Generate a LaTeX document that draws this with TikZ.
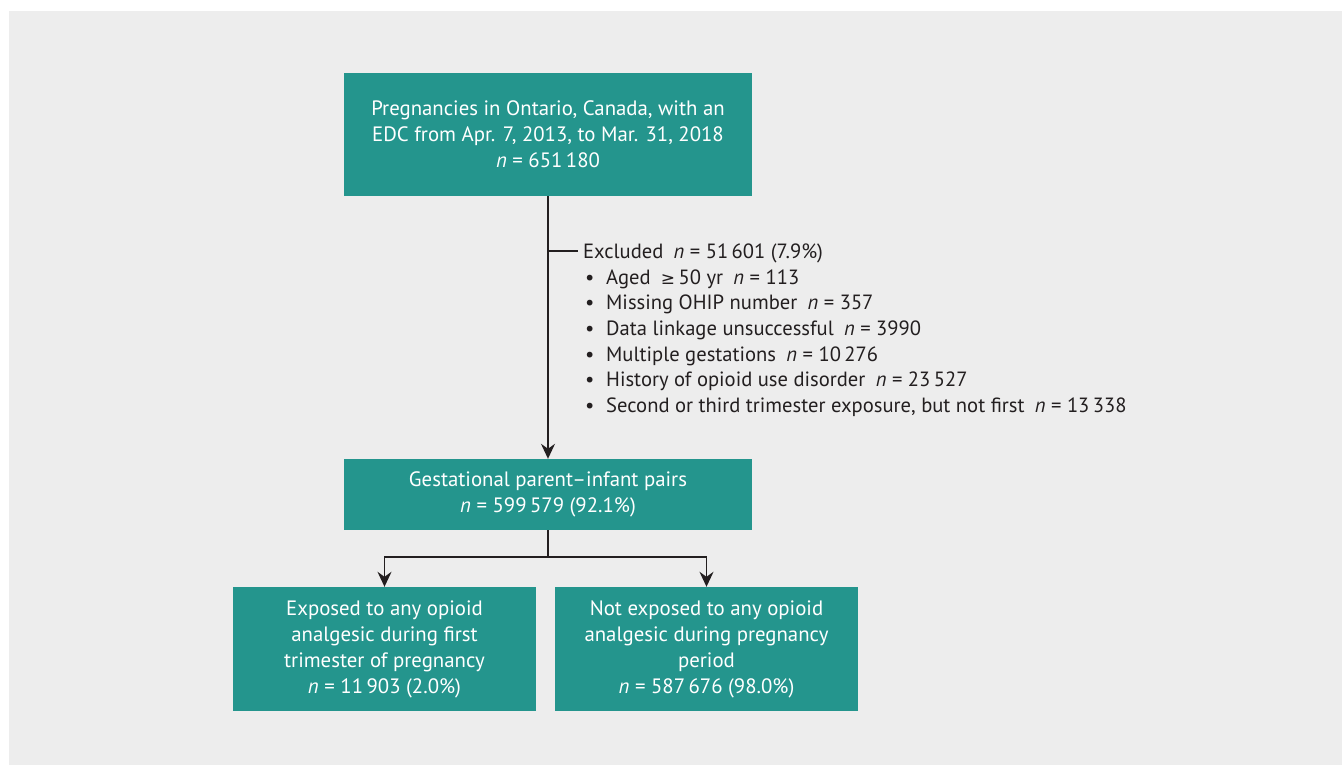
\documentclass[tikz,border=0pt]{standalone}
\usepackage{fontspec}
\setmainfont{PT Sans}
\newfontfamily\symbolfont{DejaVu Sans}
\usetikzlibrary{arrows.meta}
\definecolor{teal}{HTML}{24958D}
\definecolor{panel}{HTML}{EDEDED}
\definecolor{ink}{HTML}{231F20}
\begin{document}
\begin{tikzpicture}[x=1pt,y=-1pt,
    box/.style={fill=teal,text=white,align=center,inner sep=0pt,
      font=\fontsize{20.8}{26}\selectfont},
    note/.style={text=ink,align=left,inner sep=0pt,anchor=north west,
      font=\fontsize{20.6}{25.7}\selectfont},
    link/.style={draw=ink,line width=1.5pt},
    arrow/.style={link,-{Stealth[length=15pt,width=14pt,inset=5pt]}}]
  \useasboundingbox (0,0) rectangle (1342,765);
  \fill[panel] (9,11) rectangle (1342,765);
  \draw
    (548,134.5) node[box,minimum width=408pt,minimum height=123pt] (pregnancies)
      {Pregnancies in Ontario, Canada, with an\\
       EDC from Apr. 7, 2013, to Mar. 31, 2018\\
       \textit{n} = 651\,180}
    (548,494.5) node[box,minimum width=408pt,minimum height=71pt] (pairs)
      {Gestational parent–infant pairs\\
       \textit{n} = 599\,579 (92.1\%)}
    (384.5,649) node[box,minimum width=303pt,minimum height=124pt] (exposed)
      {Exposed to any opioid\\
       analgesic during first\\
       trimester of pregnancy\\
       \textit{n} = 11\,903 (2.0\%)}
    (706.5,649) node[box,minimum width=303pt,minimum height=124pt] (unexposed)
      {Not exposed to any opioid\\
       analgesic during pregnancy\\
       period\\
       \textit{n} = 587\,676 (98.0\%)}
    (583,243.5) node[note] (excluded)
      {Excluded\enspace\textit{n} = 51\,601 (7.9\%)\\
       \makebox[23pt][l]{\hspace{2pt}\textbullet}Aged\enspace{\symbolfont\fontsize{17}{20}\selectfont ≥}\,50 yr\enspace\textit{n} = 113\\
       \makebox[23pt][l]{\hspace{2pt}\textbullet}Missing OHIP number\enspace\textit{n} = 357\\
       \makebox[23pt][l]{\hspace{2pt}\textbullet}Data linkage unsuccessful\enspace\textit{n} = 3990\\
       \makebox[23pt][l]{\hspace{2pt}\textbullet}Multiple gestations\enspace\textit{n} = 10\,276\\
       \makebox[23pt][l]{\hspace{2pt}\textbullet}History of opioid use disorder\enspace\textit{n} = 23\,527\\
       \makebox[23pt][l]{\hspace{2pt}\textbullet}Second or third trimester exposure, but not first\enspace\textit{n} = 13\,338};
  \coordinate (exclstub) at (578,251);
  \coordinate (split) at (548,557);
  \begin{scope}[link]
    \draw[arrow] (pregnancies) to (pairs);
    \draw (pregnancies.south |- exclstub) to (exclstub);
    \draw (pairs) to (split);
    \draw[arrow] (split) -| (exposed.north);
    \draw[arrow] (split) -| (unexposed.north);
  \end{scope}
\end{tikzpicture}
\end{document}
